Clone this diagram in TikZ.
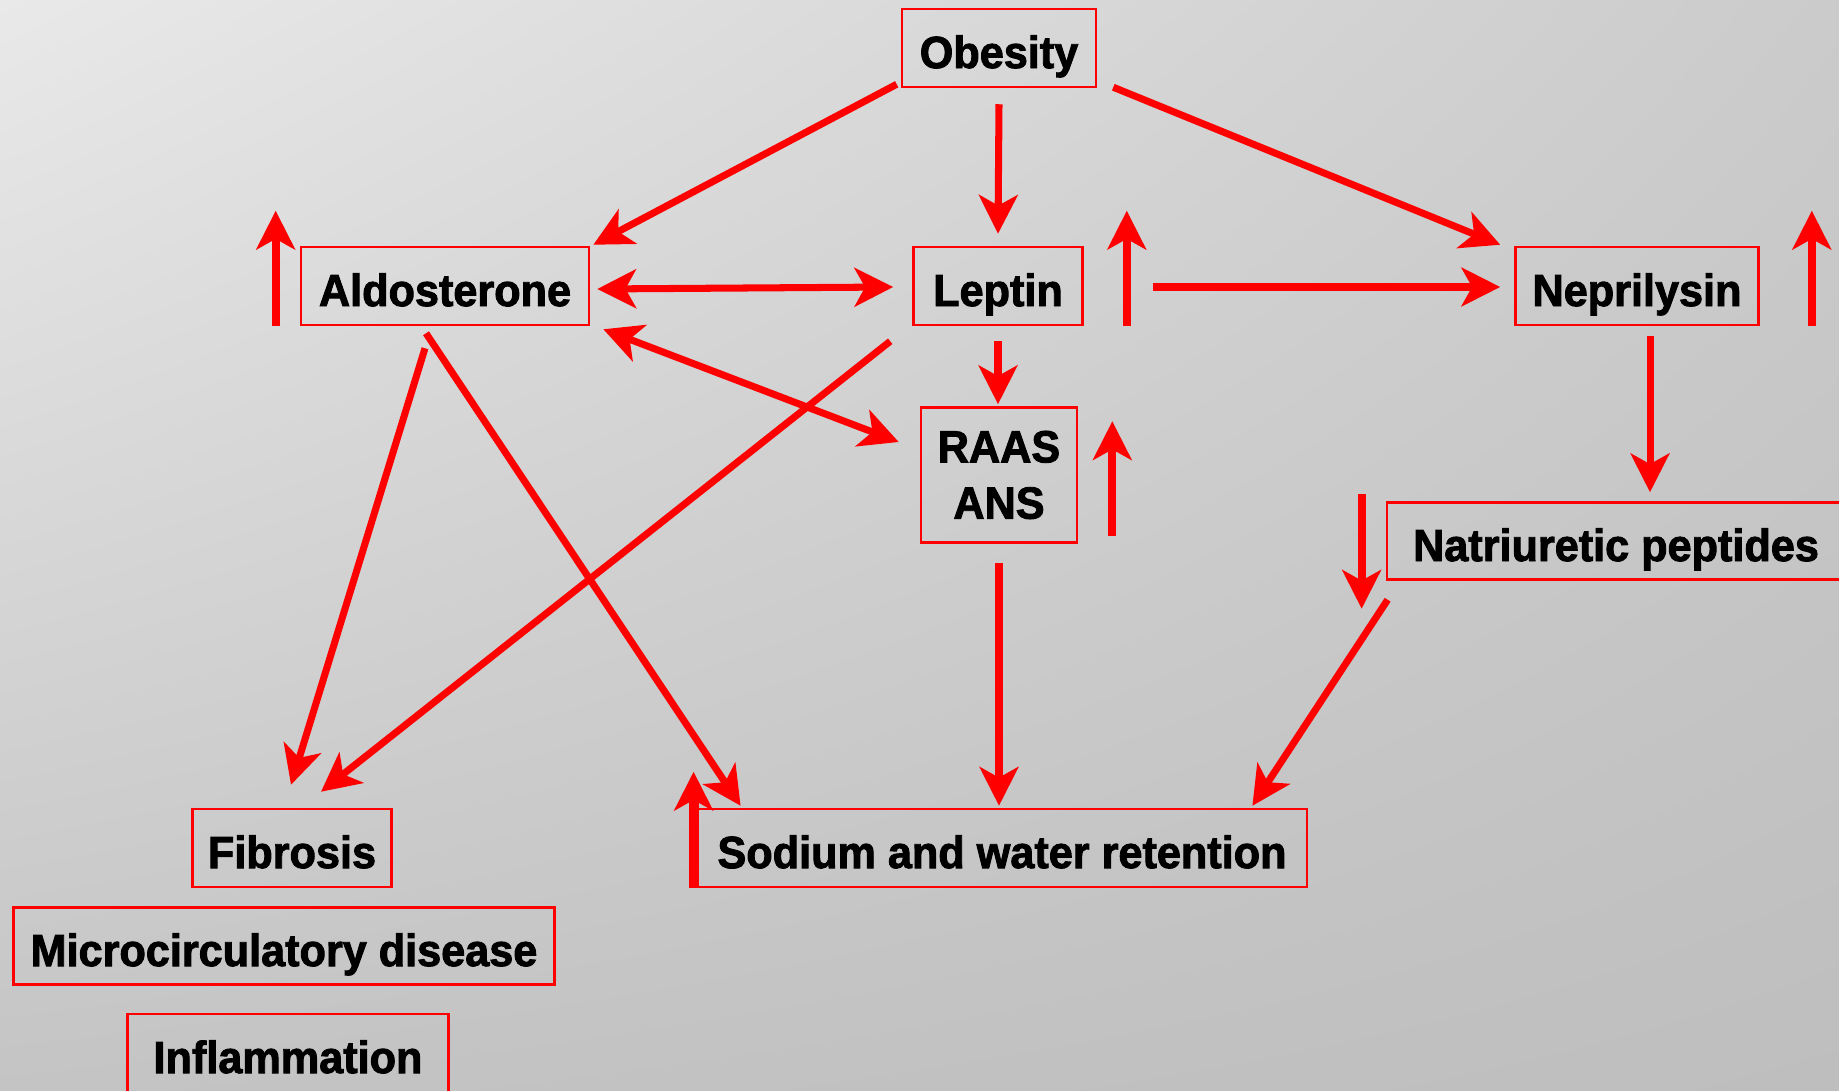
\documentclass[tikz,border=0pt]{standalone}
\usepackage{fontspec}
\setmainfont{Liberation Sans}[BoldFeatures={FakeStretch=0.96,FakeBold=2}]
\usetikzlibrary{arrows.meta,calc,shadings}
\definecolor{myred}{RGB}{255,0,0}
\definecolor{bgUL}{RGB}{233,233,233}
\definecolor{bgUR}{RGB}{203,203,203}
\definecolor{bgLL}{RGB}{196,196,196}
\definecolor{bgLR}{RGB}{190,190,190}
\begin{document}
\begin{tikzpicture}[x=0.01cm,y=-0.01cm,
  box/.style={draw=myred, line width=0.7pt, inner sep=0pt, align=center,
    font=\fontsize{12.8}{16}\selectfont\bfseries},
  one/.style={box, text height=11.4pt, text depth=0pt},
  >={Stealth[length=11pt,width=11pt,inset=3pt]},
  arr/.style={draw=myred, line width=2pt, ->},
  darr/.style={draw=myred, line width=2pt, <->},
  updn/.style={draw=myred, line width=2.2pt, ->}]
\useasboundingbox (0,0) rectangle (1839,1091);
\shade[upper left=bgUL, upper right=bgUR, lower left=bgLL, lower right=bgLR]
  (0,0) rectangle (1839,1091);
\begin{scope}
\clip (0,0) rectangle (1839,1091);
\node[one, minimum width=1.94cm, minimum height=0.78cm] (obesity) at (999,48) {Obesity};
\node[one, minimum width=2.88cm, minimum height=0.78cm] (aldo) at (445,286) {Aldosterone};
\node[one, minimum width=1.69cm, minimum height=0.78cm] (leptin) at (998,286) {Leptin};
\node[one, minimum width=2.43cm, minimum height=0.78cm] (nep) at (1637,286) {Neprilysin};
\node[box, minimum width=1.56cm, minimum height=1.35cm] (raas) at (999,475) {RAAS\\ANS};
\node[one, minimum width=4.58cm, minimum height=0.77cm] (natri) at (1616,541) {Natriuretic peptides};
\node[one, minimum width=6.10cm, minimum height=0.78cm] (sodium) at (1002,848) {Sodium and water retention};
\node[one, minimum width=1.99cm, minimum height=0.78cm] (fibrosis) at (292,848) {Fibrosis};
\node[one, minimum width=5.41cm, minimum height=0.77cm] (micro) at (284,946) {Microcirculatory disease};
\node[one, minimum width=3.21cm, minimum height=0.78cm] (inflam) at (288,1053) {Inflammation};
\end{scope}

% connectors
\draw[arr] ($(obesity.south west)+(-4,-4)$) -- ($(aldo.north east)+(3,-1)$);
\draw[arr] ($(obesity.south)+(0,16)$) -- ($(leptin.north)+(0,-12)$);
\draw[arr] ($(obesity.south east)+(16,-1)$) -- ($(nep.north west)+(-14,-1)$);
\draw[darr] ($(aldo.east)+(7,3)$) -- ($(leptin.west)+(-19,1)$);
\draw[arr] ($(leptin.east)+(69,1)$) -- ($(nep.west)+(-14,1)$);
\draw[darr] ($(aldo.south east)+(13,3)$) -- ($(raas.west)+(-21,-33)$);
\draw[arr] ($(leptin.south)+(0,15)$) -- ($(raas.north)+(-1,-2)$);
\draw[arr] ($(leptin.south west)+(-22,15)$) -- ($(fibrosis.north)+(29,-16)$);
\draw[arr] ($(aldo.south)+(-20,22)$) -- ($(fibrosis.north)+(-1,-23)$);
\draw[arr] ($(aldo.south)+(-19,7)$) -- ($(sodium.north west)+(45,-2)$);
\draw[arr] ($(raas.south)+(0,19)$) -- ($(sodium.north)+(-3,-2)$);
\draw[arr] ($(natri.south west)+(2,19)$) -- ($(sodium.north east)+(-56,-2)$);
\draw[arr] ($(nep.south)+(13,10)$) -- ($(natri.north)+(34,-9)$);

% increase / decrease marks
\coordinate (aUpS) at ($(aldo.south west)+(-24,0)$);
\coordinate (aUpT) at ($(aldo.north west)+(-24,-35)$);
\coordinate (lUpS) at ($(leptin.south east)+(43,0)$);
\coordinate (lUpT) at ($(leptin.north east)+(43,-35)$);
\coordinate (nUpS) at ($(nep.south east)+(52,0)$);
\coordinate (nUpT) at ($(nep.north east)+(52,-35)$);
\coordinate (rUpS) at ($(raas.south east)+(34,-8)$);
\coordinate (rUpT) at ($(raas.north east)+(34,15)$);
\coordinate (pDnS) at ($(natri.north west)+(-24,-7)$);
\coordinate (pDnT) at ($(natri.south west)+(-24,28)$);
\coordinate (sUpS) at ($(sodium.south west)+(-2,0)$);
\coordinate (sUpT) at ($(sodium.north west)+(-2,-36)$);
\draw[updn] (aUpS) -- (aUpT);
\draw[updn] (lUpS) -- (lUpT);
\draw[updn] (nUpS) -- (nUpT);
\draw[updn] (rUpS) -- (rUpT);
\draw[updn] (pDnS) -- (pDnT);
\draw[updn, line width=2.9pt] (sUpS) -- (sUpT);
\end{tikzpicture}
\end{document}
